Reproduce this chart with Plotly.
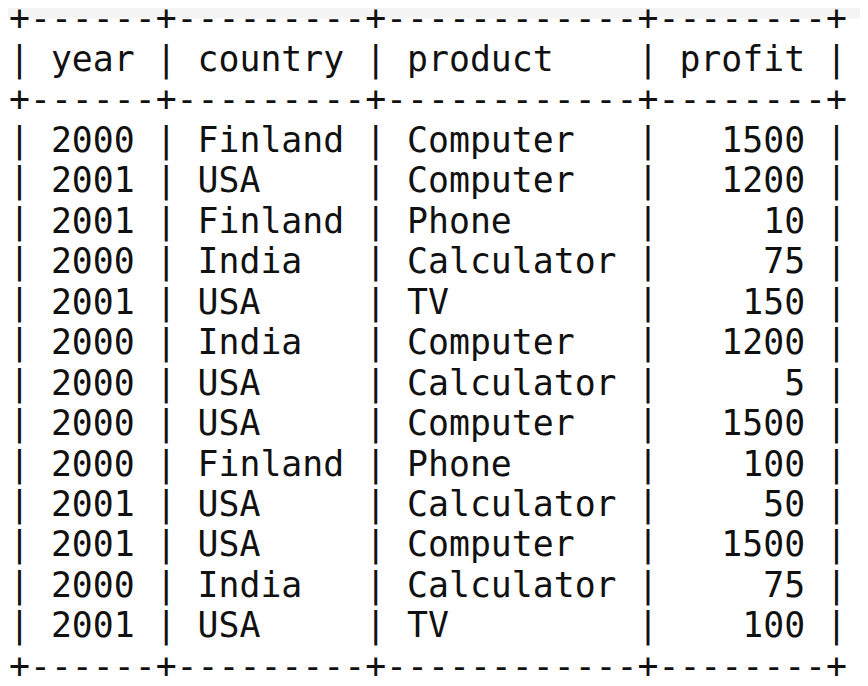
import plotly.graph_objects as go

# data
years = [2000, 2001, 2001, 2000, 2001, 2000, 2000, 2000, 2000, 2001, 2001, 2000, 2001]
countries = ['Finland', 'USA', 'Finland', 'India', 'USA', 'India', 'USA', 'USA',
             'Finland', 'USA', 'USA', 'India', 'USA']
products = ['Computer', 'Computer', 'Phone', 'Calculator', 'TV', 'Computer', 'Calculator',
            'Computer', 'Phone', 'Calculator', 'Computer', 'Calculator', 'TV']
profits = [1500, 1200, 10, 75, 150, 1200, 5, 1500, 100, 50, 1500, 75, 100]
headers = ['year', 'country', 'product', 'profit']

# build the mysql style text lines
border = '+------+---------+------------+--------+'
lines = [border]
lines.append('| %-4s | %-7s | %-10s | %6s |' % tuple(headers))
lines.append(border)
for y, c, p, pr in zip(years, countries, products, profits):
    lines.append('| %-4s | %-7s | %-10s | %6s |' % (y, c, p, pr))
lines.append(border)

rows = list(range(len(lines)))

fig = go.Figure()
fig.add_trace(go.Scatter(
    x=[0] * len(lines),
    y=rows,
    mode='text',
    text=[l.replace(' ', '&nbsp;') for l in lines],
    textposition='middle right',
    textfont=dict(family='DejaVu Sans Mono', size=34.8, color='#111111'),
    cliponaxis=False,
    showlegend=False,
    hoverinfo='skip',
))

# faint grey strip at the top of the screenshot
fig.add_shape(type='rect', xref='paper', yref='paper', x0=0, x1=1, y0=0.985, y1=1,
              fillcolor='#f4f4f4', line_width=0, layer='below')

fig.update_xaxes(range=[-1, 867], visible=False)
fig.update_yaxes(range=[16.61, -0.33], visible=False)
fig.update_layout(
    width=868,
    height=686,
    margin=dict(l=0, r=0, t=0, b=0),
    plot_bgcolor='white',
    paper_bgcolor='white',
)
fig.write_html('out.html')
